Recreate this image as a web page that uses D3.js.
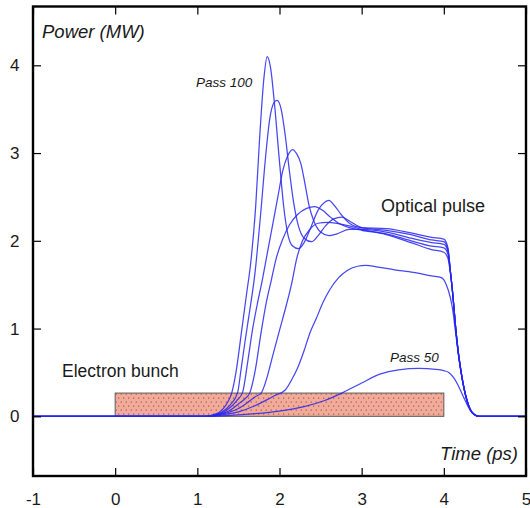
<!DOCTYPE html>
<html>
<head>
<meta charset="utf-8">
<script src="https://cdn.jsdelivr.net/npm/d3@7"></script>
<style>
  html, body { margin: 0; padding: 0; background: #fff; }
  svg { display: block; }
  text { font-family: "Liberation Sans", Arial, Helvetica, sans-serif; fill: #1a1a1a; }
</style>
</head>
<body>
<svg id="chart" width="530" height="508"></svg>
<script>
// Optical pulse power (MW) versus time (ps) at successive passes
const pass100 = [[-1,0],[1.1,0],[1.2,0.02],[1.3,0.07],[1.38,0.18],[1.42,0.27],[1.47,0.5],[1.54,0.98],[1.6,1.4],[1.65,1.75],[1.71,2.39],[1.76,3.2],[1.81,3.85],[1.85,4.1],[1.89,3.98],[1.94,3.55],[2.0,2.9],[2.05,2.4],[2.1,2.08],[2.16,1.94],[2.23,1.91],[2.3,1.98],[2.38,2.15],[2.47,2.35],[2.55,2.44],[2.6,2.46],[2.67,2.4],[2.75,2.3],[2.85,2.2],[3.0,2.15],[3.3,2.14],[3.6,2.09],[3.85,2.04],[4.0,2.02],[4.05,1.92],[4.08,1.65],[4.11,1.38],[4.14,1.05],[4.18,0.7],[4.22,0.45],[4.27,0.22],[4.32,0.08],[4.37,0.02],[4.43,0],[5,0]];
const pass90 = [[-1,0],[1.1,0],[1.2,0.015],[1.3,0.05],[1.4,0.13],[1.49,0.27],[1.53,0.52],[1.58,0.85],[1.64,1.22],[1.7,1.62],[1.77,2.3],[1.83,2.95],[1.88,3.38],[1.93,3.57],[1.97,3.6],[2.02,3.5],[2.07,3.2],[2.12,2.8],[2.17,2.45],[2.23,2.17],[2.3,2.03],[2.39,1.99],[2.47,2.06],[2.56,2.17],[2.66,2.25],[2.76,2.27],[2.86,2.22],[3.0,2.15],[3.3,2.12],[3.6,2.07],[3.85,2.01],[4.0,1.99],[4.05,1.9],[4.08,1.65],[4.11,1.38],[4.14,1.05],[4.18,0.7],[4.22,0.45],[4.27,0.22],[4.32,0.08],[4.37,0.02],[4.43,0],[5,0]];
const pass80 = [[-1,0],[1.1,0],[1.2,0.012],[1.3,0.04],[1.4,0.1],[1.48,0.18],[1.55,0.27],[1.61,0.6],[1.67,0.98],[1.73,1.28],[1.79,1.55],[1.85,1.85],[1.92,2.2],[1.98,2.5],[2.04,2.8],[2.1,2.97],[2.16,3.04],[2.21,2.99],[2.26,2.88],[2.31,2.65],[2.36,2.4],[2.42,2.22],[2.5,2.1],[2.6,2.06],[2.7,2.08],[2.85,2.13],[3.0,2.13],[3.3,2.1],[3.6,2.03],[3.85,1.98],[4.0,1.96],[4.05,1.88],[4.08,1.65],[4.11,1.38],[4.14,1.05],[4.18,0.7],[4.22,0.45],[4.27,0.22],[4.32,0.08],[4.37,0.02],[4.43,0],[5,0]];
const pass70 = [[-1,0],[1.1,0],[1.2,0.01],[1.3,0.03],[1.4,0.07],[1.5,0.14],[1.58,0.2],[1.64,0.27],[1.7,0.5],[1.78,0.98],[1.84,1.3],[1.9,1.55],[1.96,1.8],[2.04,2.02],[2.12,2.18],[2.22,2.3],[2.33,2.37],[2.43,2.39],[2.52,2.35],[2.62,2.27],[2.72,2.2],[2.85,2.15],[3.0,2.12],[3.3,2.08],[3.6,2.0],[3.85,1.94],[4.0,1.92],[4.05,1.85],[4.08,1.65],[4.11,1.38],[4.14,1.05],[4.18,0.7],[4.22,0.45],[4.27,0.22],[4.32,0.08],[4.37,0.02],[4.43,0],[5,0]];
const pass65 = [[-1,0],[1.1,0],[1.2,0.008],[1.3,0.025],[1.4,0.05],[1.5,0.09],[1.6,0.15],[1.7,0.22],[1.78,0.27],[1.85,0.45],[1.92,0.7],[2.0,0.98],[2.07,1.22],[2.15,1.52],[2.21,1.8],[2.28,2.0],[2.37,2.13],[2.47,2.2],[2.58,2.21],[2.7,2.2],[2.85,2.17],[3.0,2.13],[3.3,2.07],[3.6,1.98],[3.85,1.9],[4.0,1.87],[4.05,1.8],[4.08,1.63],[4.11,1.38],[4.14,1.05],[4.18,0.7],[4.22,0.45],[4.27,0.22],[4.32,0.08],[4.37,0.02],[4.43,0],[5,0]];
const pass60 = [[-1,0],[1.1,0],[1.3,0.015],[1.5,0.05],[1.7,0.12],[1.85,0.19],[1.95,0.24],[2.07,0.3],[2.15,0.42],[2.22,0.55],[2.3,0.75],[2.37,0.95],[2.45,1.12],[2.53,1.3],[2.61,1.44],[2.72,1.58],[2.82,1.66],[2.95,1.71],[3.05,1.72],[3.2,1.7],[3.4,1.67],[3.63,1.64],[3.85,1.6],[3.97,1.58],[4.03,1.5],[4.08,1.35],[4.11,1.2],[4.14,0.98],[4.18,0.68],[4.22,0.44],[4.27,0.22],[4.32,0.08],[4.37,0.02],[4.43,0],[5,0]];
const pass50 = [[-1,0],[1.1,0],[1.4,0.01],[1.7,0.03],[2.0,0.06],[2.3,0.11],[2.55,0.18],[2.77,0.27],[3.0,0.38],[3.22,0.48],[3.45,0.53],[3.7,0.545],[3.9,0.535],[4.0,0.52],[4.06,0.5],[4.12,0.44],[4.17,0.36],[4.22,0.26],[4.27,0.16],[4.32,0.07],[4.37,0.02],[4.43,0],[5,0]];

const passes = [pass50, pass60, pass65, pass70, pass80, pass90, pass100];

// Electron bunch: time span (ps) and drawn height (MW)
const bunchSpan = [0, 4];
const bunchHeight = 0.265;

const xTicks = [-1, 0, 1, 2, 3, 4, 5];
const yTicks = [0, 1, 2, 3, 4];

const svg = d3.select("#chart");
const plotLeft = 33, plotRight = 526, plotTop = 6.5, plotBottom = 476;

const x = d3.scaleLinear().domain([-1, 5]).range([plotLeft, plotRight]);
const y = d3.scaleLinear().domain([-0.68, 4.67]).range([plotBottom, plotTop]);

// dotted fill for the bunch
const defs = svg.append("defs");
const pat = defs.append("pattern")
  .attr("id", "dots").attr("patternUnits", "userSpaceOnUse")
  .attr("width", 5).attr("height", 8);
pat.append("rect").attr("width", 5).attr("height", 8).attr("fill", "#f4aa98");
pat.append("circle").attr("cx", 1.2).attr("cy", 2).attr("r", 0.6).attr("fill", "#4a3434");
pat.append("circle").attr("cx", 3.7).attr("cy", 6).attr("r", 0.6).attr("fill", "#4a3434");

svg.append("rect")
  .attr("x", x(bunchSpan[0]))
  .attr("y", y(bunchHeight))
  .attr("width", x(bunchSpan[1]) - x(bunchSpan[0]))
  .attr("height", y(0) - y(bunchHeight))
  .attr("fill", "url(#dots)")
  .attr("stroke", "#5a5a5a")
  .attr("stroke-width", 1);

const line = d3.line()
  .x(d => x(d[0]))
  .y(d => y(d[1]))
  .curve(d3.curveMonotoneX);

svg.append("g")
  .selectAll("path")
  .data(passes)
  .join("path")
  .attr("d", line)
  .attr("fill", "none")
  .attr("stroke", "#2626f0")
  .attr("stroke-opacity", 0.85)
  .attr("stroke-width", 1.25);

// axes: ticks pointing inward on all four sides
const fontSize = "17px";
const plainNumber = d => String(d);
const gB = svg.append("g").attr("transform", `translate(0,${plotBottom})`)
  .call(d3.axisBottom(x).tickValues(xTicks).tickSize(-8).tickPadding(17).tickFormat(plainNumber));
const gL = svg.append("g").attr("transform", `translate(${plotLeft},0)`)
  .call(d3.axisLeft(y).tickValues(yTicks).tickSize(-8).tickPadding(13.5).tickFormat(plainNumber));
const gT = svg.append("g").attr("transform", `translate(0,${plotTop})`)
  .call(d3.axisTop(x).tickValues(xTicks).tickSize(-8).tickFormat(""));
const gR = svg.append("g").attr("transform", `translate(${plotRight},0)`)
  .call(d3.axisRight(y).tickValues(yTicks).tickSize(-8).tickFormat(""));

[gB, gL, gT, gR].forEach(g => {
  g.select(".domain").remove();
  g.selectAll(".tick line").attr("stroke", "#000").attr("stroke-width", 1.2);
  g.selectAll(".tick text").attr("font-size", fontSize)
    .attr("font-family", "'Liberation Sans', Arial, sans-serif").attr("fill", "#1a1a1a");
});

svg.append("rect")
  .attr("x", plotLeft).attr("y", plotTop)
  .attr("width", plotRight - plotLeft).attr("height", plotBottom - plotTop)
  .attr("fill", "none").attr("stroke", "#000").attr("stroke-width", 2.4);

// labels
svg.append("text").attr("x", 42).attr("y", 37.5)
  .attr("font-size", "18.5px").attr("font-style", "italic").text("Power (MW)");
svg.append("text").attr("x", 518).attr("y", 460).attr("text-anchor", "end")
  .attr("font-size", "18.5px").attr("font-style", "italic").text("Time (ps)");
svg.append("text").attr("x", 62).attr("y", 376.5)
  .attr("font-size", "17.5px").text("Electron bunch");
svg.append("text").attr("x", 381).attr("y", 211.5)
  .attr("font-size", "18px").text("Optical pulse");
svg.append("text").attr("x", 196).attr("y", 87)
  .attr("font-size", "13.5px").attr("font-style", "italic").text("Pass 100");
svg.append("text").attr("x", 390).attr("y", 361.5)
  .attr("font-size", "13.5px").attr("font-style", "italic").text("Pass 50");
</script>
</body>
</html>
